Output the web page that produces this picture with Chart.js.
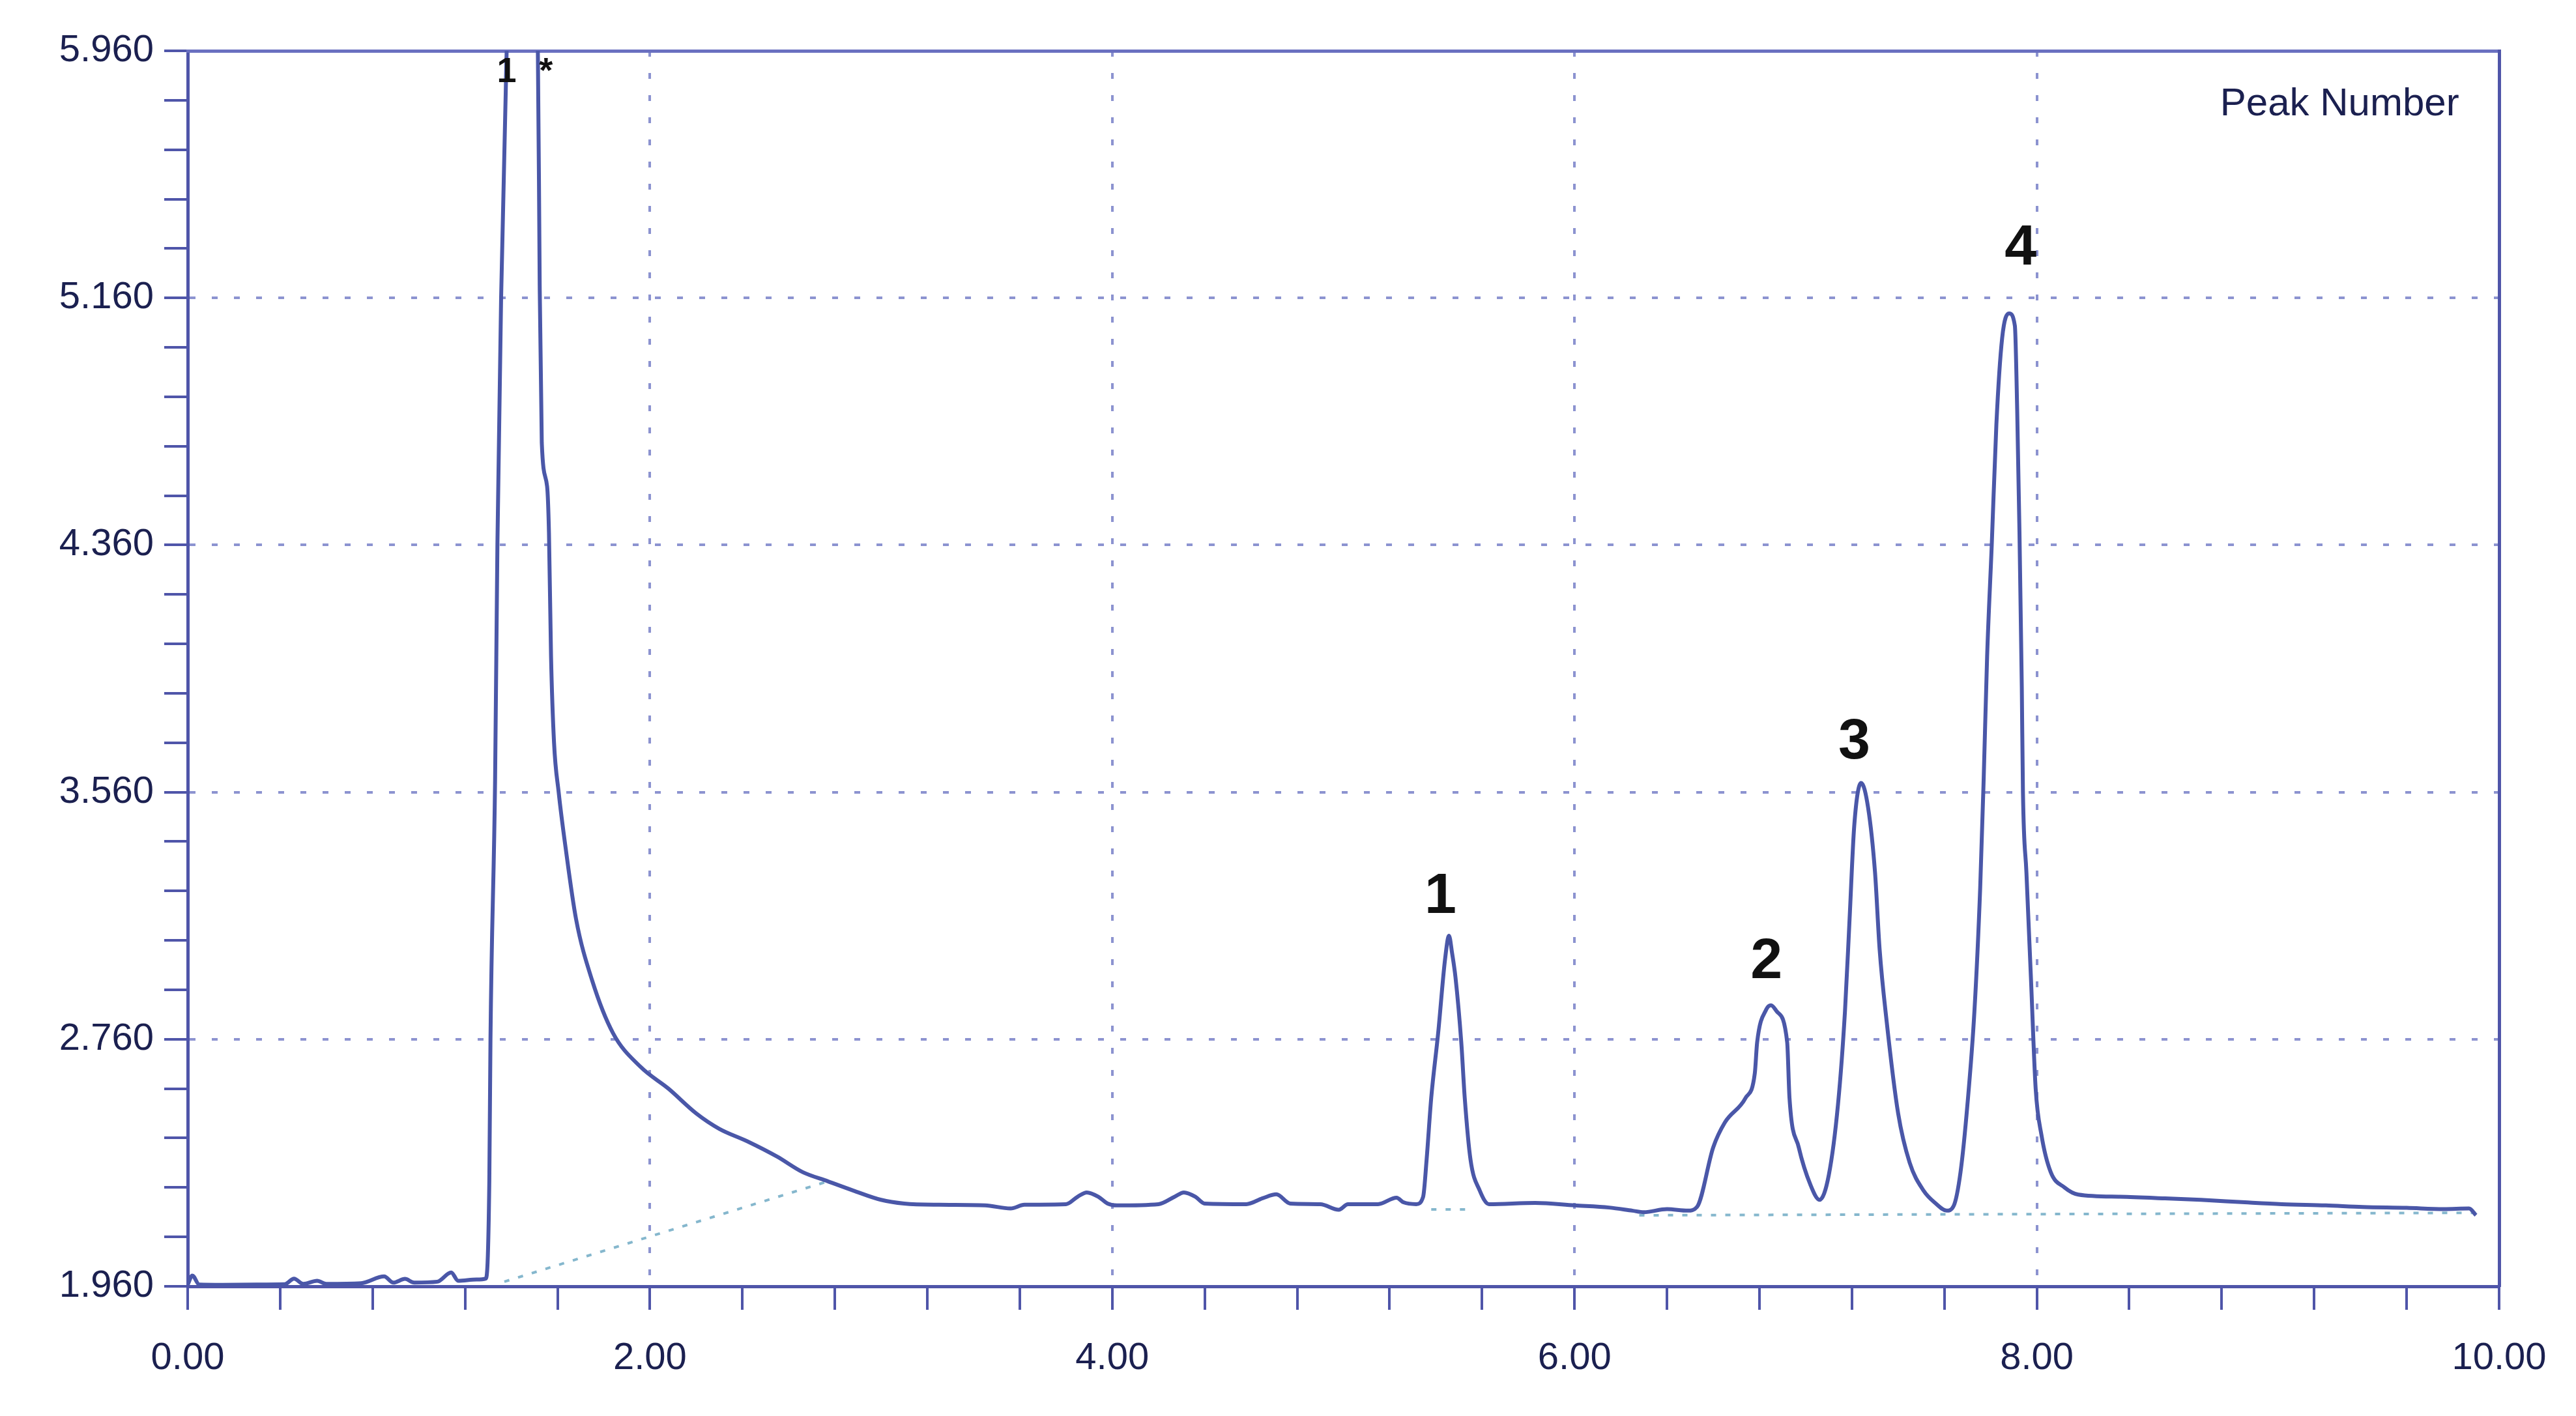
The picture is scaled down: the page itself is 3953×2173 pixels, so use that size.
<!DOCTYPE html>
<html>
<head>
<meta charset="utf-8">
<title>Chromatogram</title>
<script src="https://cdn.jsdelivr.net/npm/chart.js@4.4.1/dist/chart.umd.min.js"></script>
<style>
  html, body { margin: 0; padding: 0; background: #fff; }
  #wrap { width: 3953px; height: 2173px; }
</style>
</head>
<body>
<div id="wrap"><canvas id="chromChart"></canvas></div>
<script>
// retention time (min) / detector signal
const times = [
  0.00, 0.02, 0.05, 0.15, 0.30, 0.42, 0.46, 0.50, 0.56, 0.60, 0.75, 0.85, 0.89, 0.94, 0.98, 1.08, 1.14, 1.17, 1.25, 1.29,
  1.305, 1.31, 1.33, 1.34, 1.356, 1.38, 1.44, 1.515, 1.523, 1.532, 1.555, 1.563, 1.572, 1.585, 1.605, 1.635, 1.68, 1.75,
  1.84, 1.96, 2.08, 2.20, 2.30, 2.42, 2.55, 2.66, 2.77, 2.88, 3.00, 3.10, 3.25, 3.45, 3.56, 3.62, 3.80, 3.85, 3.89,
  3.94, 3.98, 4.02, 4.20, 4.27, 4.31, 4.36, 4.40, 4.58, 4.65, 4.71, 4.77, 4.90, 4.98, 5.02, 5.15, 5.23, 5.26, 5.315,
  5.345, 5.36, 5.38, 5.41, 5.44, 5.457, 5.47, 5.485, 5.51, 5.525, 5.55, 5.59, 5.63, 5.83, 6.00, 6.15, 6.25, 6.30, 6.40,
  6.49, 6.53, 6.60, 6.65, 6.74, 6.78, 6.79, 6.83, 6.85, 6.875, 6.92, 6.93, 6.97, 7.02, 7.06, 7.10, 7.14, 7.17, 7.19,
  7.21, 7.24, 7.27, 7.30, 7.32, 7.35, 7.40, 7.45, 7.51, 7.56, 7.61, 7.64, 7.67, 7.70, 7.73, 7.755, 7.77, 7.785, 7.805,
  7.825, 7.85, 7.88, 7.905, 7.915, 7.925, 7.935, 7.94, 7.955, 7.975, 7.995, 8.02, 8.06, 8.12, 8.18, 8.36, 8.55, 8.71,
  8.90, 9.06, 9.25, 9.41, 9.60, 9.76, 9.87, 9.90
];
const signal = [
  1.965, 1.995, 1.966, 1.965, 1.966, 1.967, 1.985, 1.968, 1.978, 1.968, 1.970, 1.992, 1.972, 1.984, 1.972, 1.975, 2.005, 1.978, 1.982, 1.985,
  2.30, 2.76, 3.60, 4.36, 5.16, 5.96, 6.60, 5.96, 5.20, 4.69, 4.55, 4.40, 4.00, 3.72, 3.56, 3.38, 3.15, 2.95,
  2.78, 2.67, 2.60, 2.52, 2.47, 2.43, 2.38, 2.33, 2.30, 2.27, 2.24, 2.228, 2.224, 2.222, 2.212, 2.224, 2.226, 2.25, 2.264,
  2.25, 2.228, 2.222, 2.226, 2.25, 2.264, 2.25, 2.228, 2.226, 2.245, 2.258, 2.228, 2.226, 2.208, 2.226, 2.226, 2.247, 2.232, 2.226,
  2.25, 2.37, 2.57, 2.78, 3.02, 3.095, 3.04, 2.96, 2.75, 2.57, 2.37, 2.27, 2.226, 2.23, 2.222, 2.215, 2.205, 2.20, 2.21,
  2.205, 2.217, 2.41, 2.49, 2.57, 2.65, 2.75, 2.857, 2.87, 2.85, 2.75, 2.57, 2.41, 2.29, 2.24, 2.32, 2.55, 2.85, 3.15,
  3.45, 3.59, 3.51, 3.30, 3.05, 2.82, 2.52, 2.36, 2.27, 2.23, 2.205, 2.22, 2.33, 2.55, 2.85, 3.25, 3.60, 4.00, 4.36,
  4.75, 5.03, 5.11, 5.07, 4.80, 4.40, 3.90, 3.56, 3.30, 2.95, 2.60, 2.45, 2.33, 2.28, 2.257, 2.25, 2.245, 2.24,
  2.232, 2.226, 2.222, 2.217, 2.214, 2.21, 2.212, 2.19
];

// integration baselines drawn by the software (null = gap)
const baseTimes = [1.37, 2.77, 3.00, 5.38, 5.56, 5.80, 6.28, 9.90];
const baseSignal = [1.975, 2.30, null, 2.209, 2.209, null, 2.19, 2.198];

// peak annotations
const peakNames = ["1", "2", "3", "4"];
const peakLabelTimes = [5.42, 6.83, 7.21, 7.93];
const peakLabelHeights = [3.22, 3.01, 3.72, 5.32];
const solventMarks = ["1", "*"];
const solventTimes = [1.38, 1.55];
const solventHeight = 5.89;

// axes
const xMin = 0, xMax = 10, xStep = 0.4;
const yMin = 1.96, yMax = 5.96, yStep = 0.16;

const FONT = "'Liberation Sans', Arial, sans-serif";
const AXIS_COLOR = "#4f55a9";
const GRID_COLOR = "rgba(120, 128, 200, 0.85)";
const TEXT_COLOR = "#1b2050";

const toPoints = (xs, ys) => xs.map((t, i) => ({ x: t, y: ys[i] }));

const labelPlugin = {
  id: "peakLabels",
  afterDatasetsDraw(chart) {
    const { ctx, scales } = chart;
    const x = scales.x;
    const y = scales.y;
    ctx.save();
    ctx.textAlign = "center";
    ctx.textBaseline = "middle";
    ctx.fillStyle = "#111111";
    ctx.font = "bold 88px " + FONT;
    peakNames.forEach((name, i) => {
      ctx.fillText(name, x.getPixelForValue(peakLabelTimes[i]), y.getPixelForValue(peakLabelHeights[i]));
    });
    ctx.font = "bold 54px " + FONT;
    solventMarks.forEach((m, i) => {
      ctx.fillText(m, x.getPixelForValue(solventTimes[i]), y.getPixelForValue(solventHeight));
    });
    ctx.fillStyle = TEXT_COLOR;
    ctx.font = "60px " + FONT;
    ctx.fillText("Peak Number", x.getPixelForValue(9.31), y.getPixelForValue(5.785));
    ctx.restore();
  },
};

window.document.addEventListener("DOMContentLoaded", function () {
  const canvas = document.querySelector("canvas#chromChart");
  if (!canvas) return;

  new Chart(canvas, {
    type: "scatter",
    data: {
      datasets: [
        {
          label: "Signal",
          data: toPoints(times, signal),
          showLine: true,
          borderColor: "#4a57a8",
          borderWidth: 6,
          pointRadius: 0,
          cubicInterpolationMode: "monotone",
          order: 1,
        },
        {
          label: "Baseline",
          data: toPoints(baseTimes, baseSignal),
          showLine: true,
          spanGaps: false,
          borderColor: "rgba(120, 175, 200, 0.9)",
          borderWidth: 4,
          borderDash: [8, 14],
          pointRadius: 0,
          order: 2,
        },
      ],
    },
    options: {
      responsive: true,
      maintainAspectRatio: false,
      animation: false,
      layout: { padding: { top: 78, right: 118, left: 0, bottom: 0 } },
      plugins: {
        legend: { display: false },
        tooltip: { enabled: false },
      },
      scales: {
        x: {
          type: "linear",
          position: "bottom",
          min: xMin,
          max: xMax,
          afterFit(scale) { scale.height = 199; },
          ticks: {
            stepSize: xStep,
            autoSkip: false,
            maxRotation: 0,
            padding: 40,
            color: TEXT_COLOR,
            font: { family: FONT, size: 58 },
            callback: (value, index) => (index % 5 === 0 ? Number(value).toFixed(2) : ""),
          },
          grid: {
            color: (c) => (c.index % 5 === 0 && c.index > 0 && c.index < 25 ? GRID_COLOR : "transparent"),
            lineWidth: 4,
            tickLength: 36,
            tickColor: AXIS_COLOR,
            tickWidth: 4,
            tickBorderDash: [],
          },
          border: { display: true, color: AXIS_COLOR, width: 5, dash: [9, 25] },
        },
        y: {
          type: "linear",
          position: "left",
          min: yMin,
          max: yMax,
          afterFit(scale) { scale.width = 288; },
          ticks: {
            stepSize: yStep,
            autoSkip: false,
            padding: 16,
            color: TEXT_COLOR,
            font: { family: FONT, size: 58 },
            callback: (value, index) => (index % 5 === 0 ? Number(value).toFixed(3) : ""),
          },
          grid: {
            color: (c) => (c.index % 5 === 0 && c.index > 0 && c.index < 25 ? GRID_COLOR : "transparent"),
            lineWidth: 4,
            tickLength: 36,
            tickColor: AXIS_COLOR,
            tickWidth: 4,
            tickBorderDash: [],
          },
          border: { display: true, color: AXIS_COLOR, width: 5, dash: [9, 25] },
        },
        xTop: {
          type: "linear",
          position: "top",
          min: xMin,
          max: xMax,
          afterFit(scale) { scale.height = 0; },
          ticks: { display: false },
          grid: { display: false, drawTicks: false },
          border: { display: true, color: "#6a70c0", width: 5 },
        },
        yRight: {
          type: "linear",
          position: "right",
          min: yMin,
          max: yMax,
          afterFit(scale) { scale.width = 0; },
          ticks: { display: false },
          grid: { display: false, drawTicks: false },
          border: { display: true, color: AXIS_COLOR, width: 5 },
        },
      },
    },
    plugins: [labelPlugin],
  });
});
</script>
</body>
</html>
